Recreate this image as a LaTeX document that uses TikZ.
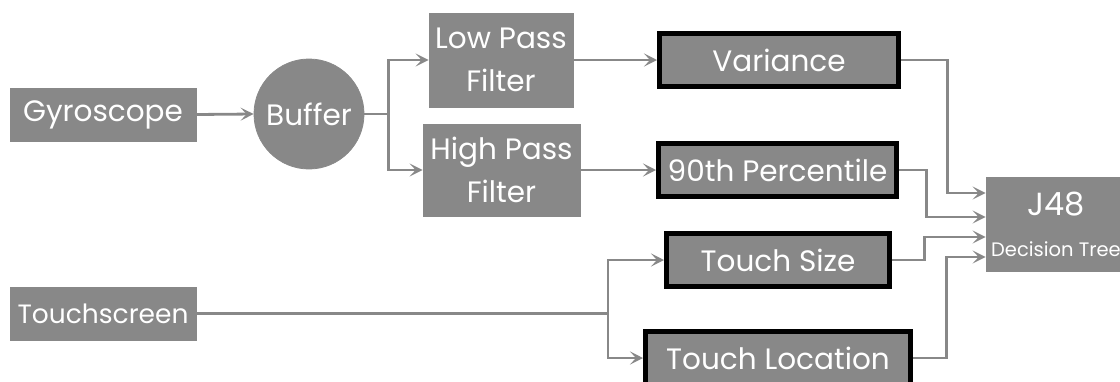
\documentclass[tikz,border=0pt]{standalone}
\usepackage{fontspec}
\setmainfont{Poppins}
\usetikzlibrary{arrows.meta,calc}
\definecolor{boxgray}{HTML}{888888}
\definecolor{linegray}{HTML}{888888}
\tikzset{
  box/.style={fill=boxgray,draw=boxgray,line width=0.8pt,text=white,inner sep=0pt,align=center,font=\fontsize{29.5}{43}\selectfont},
  feat/.style={box,draw=black,line width=5pt,minimum height=53pt},
  conn/.style={draw=linegray,line width=2.8pt},
  arr/.style={conn,-{Stealth[length=13pt,width=13pt,inset=6pt]}},
}
\begin{document}
\begin{tikzpicture}[x=1pt,y=-1pt]
\useasboundingbox (0,0) rectangle (1120,381);
\clip (0,0) rectangle (1120,381);
\node[box,minimum width=186pt,minimum height=53pt] (gyro) at (103,114.5) {Gyroscope};
\node[box,minimum width=186pt,minimum height=53pt,font=\fontsize{26.5}{30}\selectfont] (touch) at (103,313.5) {Touchscreen};
\node[box,circle,minimum size=110pt] (buffer) at (309,114) {Buffer};
\node[box,minimum width=144pt,minimum height=94pt] (lowpass) at (501,60) {Low Pass\\Filter};
\node[box,minimum width=157pt,minimum height=92pt] (highpass) at (501.5,170) {High Pass\\Filter};
\node[feat,minimum width=239pt] (variance) at (779,60) {Variance};
\node[feat,minimum width=238pt] (pct) at (777.5,170) {90th Percentile};
\node[feat,minimum width=223pt] (tsize) at (778,260) {Touch Size};
\node[feat,minimum width=265pt] (tloc) at (778,358) {Touch Location};
\node[box,minimum width=140pt,minimum height=94pt] (j48) at (1056,224) {{\fontsize{32}{34}\selectfont J48}\\[-2pt]{\fontsize{19.5}{22}\selectfont Decision Tree}};
\coordinate (in1) at ($(j48.west)+(0,-31)$);
\coordinate (in2) at ($(j48.west)+(0,-7)$);
\coordinate (in3) at ($(j48.west)+(0,13)$);
\coordinate (in4) at ($(j48.west)+(0,33)$);
\draw[arr] (gyro.east) -- (buffer.west);
\draw[arr] (buffer.east) -- ++(24,0) |- (lowpass.west);
\draw[arr] (buffer.east) -- ++(24,0) |- (highpass.west);
\draw[arr] (lowpass.east) -- (variance.west);
\draw[arr] (highpass.east) -- (pct.west);
\draw[arr] (touch.east) -- (608,313.5) |- (tsize.west);
\draw[arr] (touch.east) -- (608,313.5) |- (tloc.west);
\draw[arr] (variance.east) -| ($(in1)+(-38,0)$) -- (in1);
\draw[arr] (pct.east) -| ($(in2)+(-59,0)$) -- (in2);
\draw[arr] (tsize.east) -| ($(in3)+(-61,0)$) -- (in3);
\draw[arr] (tloc.east) -| ($(in4)+(-39,0)$) -- (in4);
\end{tikzpicture}
\end{document}
